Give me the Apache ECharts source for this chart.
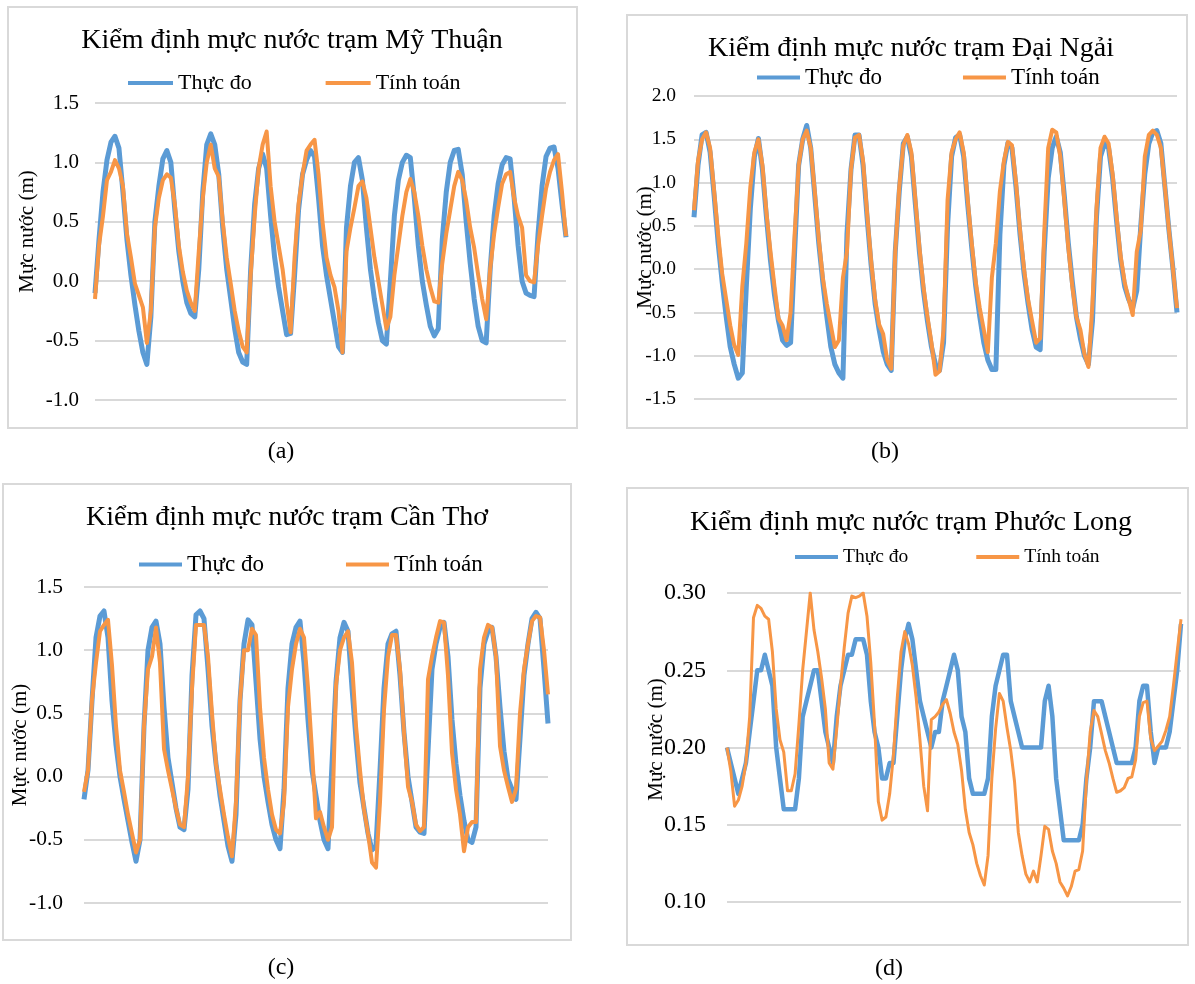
<!DOCTYPE html>
<html>
<head>
<meta charset="utf-8">
<title>Kiểm định mực nước</title>
<script src="https://cdn.jsdelivr.net/npm/echarts/dist/echarts.min.js"></script>
<style>
  html, body { margin: 0; padding: 0; background: #fff; }
  #chart { width: 1195px; height: 984px; }
</style>
</head>
<body>
<div id="chart"></div>
<script>
// tên chuỗi số liệu
const seriesNames = ['Thực đo', 'Tính toán'];

// trục tung: [min, max, bước]
const rangeMyThuan = [-1.0, 1.5, 0.5];
const rangeDaiNgai = [-1.5, 2.0, 0.5];
const rangeCanTho = [-1.0, 1.5, 0.5];
const rangePhuocLong = [0.10, 0.30, 0.05];

// (a) Mỹ Thuận
const myThuanThucDo = [
  -0.10, 0.35, 0.75, 1.02, 1.17, 1.22, 1.12, 0.75, 0.35, 0.05, -0.20, -0.42, -0.60, -0.70,
  -0.30, 0.50, 0.80, 1.03, 1.10, 1.00, 0.60, 0.25, 0.00, -0.18, -0.27, -0.30,
  0.10, 0.75, 1.15, 1.24, 1.15, 0.90, 0.45, 0.10, -0.15, -0.40, -0.60, -0.68, -0.70,
  0.10, 0.65, 0.95, 1.07, 0.95, 0.55, 0.20, -0.05, -0.25, -0.45, -0.44,
  0.05, 0.60, 0.90, 1.02, 1.10, 1.05, 0.70, 0.30, 0.05, -0.15, -0.35, -0.55, -0.60,
  0.45, 0.80, 1.00, 1.04, 0.85, 0.45, 0.10, -0.15, -0.35, -0.50, -0.53,
  0.00, 0.55, 0.85, 1.00, 1.06, 1.04, 0.70, 0.30, 0.00, -0.20, -0.38, -0.46, -0.40,
  0.35, 0.75, 1.00, 1.10, 1.11, 0.90, 0.50, 0.15, -0.15, -0.38, -0.50, -0.52,
  0.10, 0.55, 0.82, 0.98, 1.04, 1.03, 0.70, 0.30, 0.00, -0.10, -0.12, -0.13,
  0.40, 0.80, 1.05, 1.12, 1.13, 0.95, 0.65, 0.37
];
const myThuanTinhToan = [
  -0.15, 0.30, 0.55, 0.85, 0.92, 1.02, 0.95, 0.80, 0.40, 0.20, -0.02, -0.12, -0.22, -0.52,
  -0.25, 0.45, 0.70, 0.85, 0.90, 0.87, 0.65, 0.30, 0.08, -0.08, -0.18, -0.25,
  0.25, 0.70, 1.00, 1.15, 0.95, 0.88, 0.50, 0.20, -0.02, -0.25, -0.42, -0.55, -0.60,
  0.05, 0.55, 0.95, 1.15, 1.26, 0.80, 0.50, 0.30, 0.10, -0.18, -0.43,
  0.20, 0.65, 0.90, 1.10, 1.15, 1.19, 0.90, 0.50, 0.20, 0.05, -0.05, -0.25, -0.60,
  0.25, 0.45, 0.62, 0.80, 0.84, 0.70, 0.45, 0.20, 0.00, -0.20, -0.40,
  -0.30, 0.05, 0.30, 0.55, 0.75, 0.86, 0.75, 0.55, 0.30, 0.10, -0.05, -0.17, -0.18,
  0.15, 0.40, 0.60, 0.80, 0.92, 0.85, 0.68, 0.45, 0.28, 0.05, -0.15, -0.32,
  0.10, 0.40, 0.62, 0.82, 0.90, 0.92, 0.70, 0.55, 0.45, 0.05, 0.00, -0.01,
  0.30, 0.55, 0.78, 0.92, 1.02, 1.07, 0.75, 0.38
];

// (b) Đại Ngải
const daiNgaiThucDo = [
  0.60, 1.20, 1.55, 1.58, 1.35, 0.85, 0.30, -0.15, -0.55, -0.90, -1.10, -1.26, -1.20,
  -0.20, 0.70, 1.30, 1.51, 1.15, 0.60, 0.10, -0.30, -0.60, -0.82, -0.88, -0.85,
  0.20, 1.20, 1.50, 1.66, 1.40, 0.85, 0.30, -0.15, -0.55, -0.90, -1.10, -1.20, -1.26,
  0.40, 1.15, 1.55, 1.55, 1.20, 0.60, 0.05, -0.40, -0.70, -0.95, -1.10, -1.17,
  0.20, 0.90, 1.45, 1.53, 1.30, 0.75, 0.20, -0.25, -0.60, -0.90, -1.10, -1.17, -0.85,
  0.50, 1.30, 1.52, 1.55, 1.30, 0.75, 0.25, -0.20, -0.55, -0.85, -1.05, -1.16, -1.16,
  0.40, 1.20, 1.46, 1.40, 0.95, 0.40, -0.05, -0.40, -0.70, -0.90, -0.93,
  0.20, 1.05, 1.40, 1.53, 1.35, 0.85, 0.30, -0.15, -0.55, -0.80, -1.00, -1.10,
  -0.60, 0.60, 1.30, 1.45, 1.40, 1.05, 0.55, 0.10, -0.20, -0.35, -0.45,
  -0.25, 0.50, 1.10, 1.45, 1.58, 1.60, 1.45, 0.95, 0.45, 0.00, -0.50
];
const daiNgaiTinhToan = [
  0.68, 1.25, 1.50, 1.58, 1.40, 0.90, 0.40, -0.05, -0.35, -0.65, -0.88, -0.99, -0.20,
  0.30, 0.95, 1.35, 1.50, 1.20, 0.65, 0.20, -0.20, -0.57, -0.65, -0.82, -0.50,
  0.40, 1.20, 1.50, 1.60, 1.40, 0.90, 0.35, -0.10, -0.40, -0.65, -0.90, -0.82, -0.10,
  0.20, 1.15, 1.52, 1.55, 1.25, 0.65, 0.10, -0.35, -0.64, -0.75, -1.05, -1.15,
  0.20, 0.95, 1.43, 1.55, 1.35, 0.80, 0.25, -0.20, -0.55, -0.85, -1.22, -1.18, -0.70,
  0.80, 1.35, 1.50, 1.58, 1.35, 0.80, 0.30, -0.15, -0.45, -0.70, -0.96, -0.10, 0.30,
  0.90, 1.25, 1.47, 1.43, 1.00, 0.45, 0.00, -0.35, -0.60, -0.85, -0.80,
  0.40, 1.40, 1.61, 1.58, 1.30, 0.80, 0.25, -0.20, -0.55, -0.70, -0.98, -1.13,
  -0.40, 0.70, 1.40, 1.53, 1.45, 1.10, 0.60, 0.15, -0.15, -0.35, -0.53,
  0.20, 0.45, 1.30, 1.55, 1.60, 1.55, 1.40, 0.95, 0.45, 0.00, -0.45
];

// (c) Cần Thơ
const canThoThucDo = [
  -0.18, 0.05, 0.60, 1.10, 1.27, 1.31, 1.10, 0.60, 0.25, 0.00, -0.18, -0.35, -0.52, -0.67,
  -0.50, 0.40, 1.00, 1.18, 1.23, 1.05, 0.55, 0.15, -0.05, -0.25, -0.40, -0.42,
  -0.10, 0.80, 1.28, 1.31, 1.25, 0.85, 0.40, 0.10, -0.15, -0.35, -0.55, -0.67,
  -0.30, 0.60, 1.05, 1.24, 1.20, 0.75, 0.30, 0.00, -0.20, -0.38, -0.50, -0.57,
  -0.10, 0.70, 1.05, 1.18, 1.23, 0.90, 0.45, 0.05, -0.15, -0.35, -0.50, -0.57,
  0.10, 0.75, 1.10, 1.22, 1.15, 0.70, 0.30, -0.05, -0.25, -0.45, -0.58, -0.55,
  0.05, 0.70, 1.05, 1.13, 1.15, 0.80, 0.35, 0.00, -0.20, -0.40, -0.44, -0.45,
  0.20, 0.85, 1.05, 1.18, 1.22, 0.95, 0.45, 0.10, -0.15, -0.35, -0.50, -0.52, -0.40,
  0.70, 1.05, 1.15, 1.18, 0.95, 0.55, 0.20, -0.02, -0.10, -0.18,
  0.30, 0.80, 1.05, 1.25, 1.30, 1.25, 0.85, 0.42
];
const canThoTinhToan = [
  -0.12, 0.05, 0.61, 0.90, 1.15, 1.20, 1.24, 0.88, 0.40, 0.05, -0.12, -0.30, -0.45, -0.60,
  -0.50, 0.40, 0.85, 0.95, 1.18, 0.90, 0.22, 0.05, -0.10, -0.25, -0.38, -0.40,
  0.00, 0.70, 1.20, 1.20, 1.20, 0.95, 0.50, 0.10, -0.10, -0.30, -0.48, -0.63,
  -0.20, 0.60, 1.00, 1.00, 1.17, 1.12, 0.55, 0.15, -0.10, -0.30, -0.42, -0.45,
  -0.20, 0.55, 0.85, 1.05, 1.17, 1.10, 0.70, 0.20, -0.33, -0.28, -0.40, -0.50,
  -0.40, 0.72, 1.00, 1.10, 1.15, 0.90, 0.40, 0.05, -0.26, -0.45, -0.68, -0.72,
  -0.20, 0.53, 0.95, 1.12, 1.12, 0.85, 0.35, -0.08, -0.20, -0.38, -0.43, -0.40,
  0.77, 0.95, 1.10, 1.23, 1.22, 0.80, 0.19, -0.10, -0.30, -0.59, -0.40, -0.36, -0.36,
  0.85, 1.10, 1.20, 1.18, 0.95, 0.24, 0.05, -0.08, -0.20,
  -0.10, 0.50, 0.85, 1.05, 1.23, 1.27, 1.26, 1.00, 0.65
];

// (d) Phước Long
const phuocLongThucDo = [
  0.20, 0.19, 0.18, 0.17, 0.18, 0.19, 0.21, 0.23, 0.25, 0.25, 0.26, 0.25, 0.24, 0.20,
  0.18, 0.16, 0.16, 0.16, 0.16, 0.18, 0.22, 0.23, 0.24, 0.25, 0.25, 0.23, 0.21, 0.20,
  0.19, 0.22, 0.24, 0.25, 0.26, 0.26, 0.27, 0.27, 0.27, 0.26, 0.23, 0.21, 0.20, 0.18,
  0.18, 0.19, 0.19, 0.22, 0.25, 0.27, 0.28, 0.27, 0.25, 0.23, 0.22, 0.21, 0.20, 0.21,
  0.21, 0.23, 0.24, 0.25, 0.26, 0.25, 0.22, 0.21, 0.18, 0.17, 0.17, 0.17, 0.17, 0.18,
  0.22, 0.24, 0.25, 0.26, 0.26, 0.23, 0.22, 0.21, 0.20, 0.20, 0.20, 0.20, 0.20, 0.20,
  0.23, 0.24, 0.22, 0.18, 0.16, 0.14, 0.14, 0.14, 0.14, 0.14, 0.15, 0.18, 0.20, 0.23,
  0.23, 0.23, 0.22, 0.21, 0.20, 0.19, 0.19, 0.19, 0.19, 0.19, 0.20, 0.23, 0.24, 0.24,
  0.21, 0.19, 0.20, 0.20, 0.20, 0.21, 0.23, 0.25, 0.28
];
const phuocLongTinhToan = [
  0.200, 0.185, 0.162, 0.166, 0.175, 0.190, 0.220, 0.284, 0.292, 0.290, 0.285, 0.283, 0.262, 0.225,
  0.205, 0.197, 0.172, 0.172, 0.183, 0.215, 0.250, 0.275, 0.300, 0.276, 0.262, 0.245, 0.225, 0.190,
  0.186, 0.212, 0.240, 0.265, 0.287, 0.298, 0.297, 0.298, 0.300, 0.285, 0.255, 0.215, 0.165, 0.153,
  0.155, 0.170, 0.195, 0.232, 0.262, 0.275, 0.267, 0.253, 0.232, 0.205, 0.175, 0.159, 0.218, 0.220,
  0.223, 0.228, 0.231, 0.222, 0.210, 0.202, 0.185, 0.160, 0.145, 0.137, 0.125, 0.117, 0.111, 0.130,
  0.180, 0.212, 0.235, 0.230, 0.213, 0.198, 0.178, 0.145, 0.130, 0.118, 0.113, 0.120, 0.113, 0.130,
  0.149, 0.147, 0.133, 0.125, 0.113, 0.109, 0.104, 0.110, 0.120, 0.121, 0.133, 0.178, 0.210, 0.224,
  0.220, 0.209, 0.198, 0.190, 0.180, 0.171, 0.172, 0.174, 0.180, 0.181, 0.192, 0.220, 0.229, 0.230,
  0.206, 0.198, 0.201, 0.204, 0.211, 0.220, 0.240, 0.262, 0.283
];

const FONT = '"Liberation Serif", "Times New Roman", serif';
const BLUE = '#5B9BD5';
const ORANGE = '#F79646';

const panels = [
  { title: 'Kiểm định mực nước trạm Mỹ Thuận', obs: myThuanThucDo, sim: myThuanTinhToan, range: rangeMyThuan, digits: 1,
    box: [8, 7, 569, 421], titlePos: [292, 27], legendPos: [128, 72], legendGap: 74, legendFont: 22, iconW: 45,
    grid: [95, 103, 471, 297], labelSize: 21, labelMargin: 16, nameGap: 57, namePad: 40, lineW: [5, 4],
    caption: '(a)', captionPos: [281, 452] },
  { title: 'Kiểm định mực nước trạm Đại Ngải', obs: daiNgaiThucDo, sim: daiNgaiTinhToan, range: rangeDaiNgai, digits: 1,
    box: [627, 15, 560, 413], titlePos: [911, 35], legendPos: [757, 66], legendGap: 81, legendFont: 23, iconW: 43,
    grid: [694, 96, 483, 303], labelSize: 19.5, labelMargin: 18, nameGap: 38, namePad: 0, lineW: [5, 4],
    caption: '(b)', captionPos: [885, 452] },
  { title: 'Kiểm định mực nước trạm Cần Thơ', obs: canThoThucDo, sim: canThoTinhToan, range: rangeCanTho, digits: 1,
    box: [3, 484, 568, 456], titlePos: [287, 504], legendPos: [139, 553], legendGap: 82, legendFont: 23, iconW: 43,
    grid: [84, 587, 464, 316], labelSize: 21.5, labelMargin: 21, nameGap: 53, namePad: 0, lineW: [5, 4],
    caption: '(c)', captionPos: [281, 968] },
  { title: 'Kiểm định mực nước trạm Phước Long', obs: phuocLongThucDo, sim: phuocLongTinhToan, range: rangePhuocLong, digits: 2,
    box: [627, 488, 561, 457], titlePos: [911, 509], legendPos: [795, 547], legendGap: 68, legendFont: 19.5, iconW: 43,
    grid: [727, 593, 454, 309], labelSize: 24, labelMargin: 21, nameGap: 60, namePad: 16, lineW: [4.5, 3],
    caption: '(d)', captionPos: [889, 969] }
];

const option = {
  backgroundColor: '#fff',
  animation: false,
  title: [], legend: [], grid: [], xAxis: [], yAxis: [], series: [], graphic: []
};

panels.forEach((p, i) => {
  option.graphic.push({
    type: 'rect', silent: true, z: -1,
    shape: { x: p.box[0], y: p.box[1], width: p.box[2], height: p.box[3] },
    style: { fill: 'none', stroke: '#d9d9d9', lineWidth: 2 }
  });
  option.graphic.push({
    type: 'text', silent: true, x: p.captionPos[0], y: p.captionPos[1],
    style: { text: p.caption, font: '24px ' + FONT, fill: '#000', align: 'center', verticalAlign: 'middle' }
  });
  option.title.push({
    text: p.title, left: p.titlePos[0], top: p.titlePos[1], textAlign: 'center', padding: 0,
    textStyle: { fontFamily: FONT, fontSize: 28, fontWeight: 'normal', color: '#000' }
  });
  option.legend.push({
    data: seriesNames, left: p.legendPos[0], top: p.legendPos[1], orient: 'horizontal', padding: 0,
    icon: 'rect', itemWidth: p.iconW, itemHeight: 4, itemGap: p.legendGap, selectedMode: false,
    textStyle: { fontFamily: FONT, fontSize: p.legendFont, color: '#000' }
  });
  option.grid.push({
    left: p.grid[0], top: p.grid[1], width: p.grid[2], height: p.grid[3],
    containLabel: false, outerBoundsMode: 'none'
  });
  option.xAxis.push({
    type: 'category', gridIndex: i, boundaryGap: false,
    data: p.obs.map((_, k) => k + 1),
    axisLine: { show: false }, axisTick: { show: false }, axisLabel: { show: false }, splitLine: { show: false }
  });
  option.yAxis.push({
    type: 'value', gridIndex: i, min: p.range[0], max: p.range[1], interval: p.range[2],
    name: 'Mực nước (m)', nameLocation: 'middle', nameGap: p.nameGap, nameMoveOverlap: false,
    nameTextStyle: { fontFamily: FONT, fontSize: 21, color: '#000', padding: [0, 0, 0, p.namePad] },
    axisLine: { show: false }, axisTick: { show: false },
    axisLabel: { fontFamily: FONT, fontSize: p.labelSize, color: '#000', margin: p.labelMargin,
      formatter: v => v.toFixed(p.digits) },
    splitLine: { lineStyle: { color: '#d9d9d9', width: 2 } }
  });
  [p.obs, p.sim].forEach((vals, s) => {
    option.series.push({
      name: seriesNames[s], type: 'line', xAxisIndex: i, yAxisIndex: i,
      data: vals, symbol: 'none', showSymbol: false, smooth: false,
      color: s === 0 ? BLUE : ORANGE,
      itemStyle: { color: s === 0 ? BLUE : ORANGE },
      lineStyle: { color: s === 0 ? BLUE : ORANGE, width: p.lineW[s], join: 'round' },
      z: 2 + s
    });
  });
});

const chart = echarts.init(document.getElementById('chart'), null, { renderer: 'canvas' });
chart.setOption(option);
window.addEventListener('resize', () => chart.resize());
</script>
</body>
</html>
